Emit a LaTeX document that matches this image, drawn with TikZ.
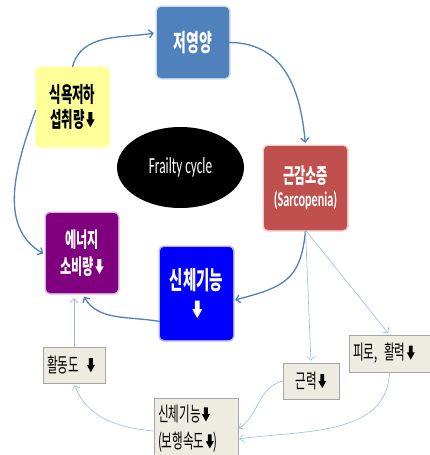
\documentclass[tikz,border=0pt]{standalone}
\usepackage{fontspec}
\setmainfont{Noto Sans CJK KR}[FakeStretch=0.58]
\newfontfamily\latinfont{Carlito}[FakeStretch=0.58]
\usetikzlibrary{arrows.meta,shapes.geometric}

\definecolor{cBlueGray}{HTML}{4F81BD}
\definecolor{cYellow}{HTML}{FFFF99}
\definecolor{cRed}{HTML}{C0504D}
\definecolor{cPurple}{HTML}{800080}
\definecolor{cBlue}{HTML}{0000FF}
\definecolor{cBeige}{HTML}{EEECE1}
\definecolor{cBeigeLine}{HTML}{A6A6A6}
\definecolor{cMain}{HTML}{4F81BD}
\definecolor{cThin}{HTML}{9DBBDD}

\newcommand{\dnarr}[1][black]{\hspace{0.06em}\tikz[baseline=0pt, sharp corners]{\fill[#1, sharp corners] (-0.095em,0.72em) -- (0.095em,0.72em) -- (0.095em,0.38em) -- (0.2em,0.38em) -- (0em,0.02em) -- (-0.2em,0.38em) -- (-0.095em,0.38em) -- cycle;}}

\tikzset{
  cbox/.style={fill=#1, preaction={draw=#1!30, line width=3pt}, rounded corners=4pt,
    align=center, text=white, font=\bfseries\fontsize{21}{25}\selectfont, inner sep=2pt},
  bbox/.style={draw=cBeigeLine, fill=cBeige, line width=0.6pt,
    font=\fontsize{20}{27}\selectfont, align=left, inner xsep=4pt, inner ysep=2pt},
  mainarr/.style={draw=cMain, line width=1.3pt, -{Straight Barb[length=4pt,width=8pt]}},
  thinarr/.style={draw=cThin, line width=0.6pt, -{Straight Barb[length=4pt,width=8pt]}},
}

\begin{document}
\begin{tikzpicture}[x=1pt,y=1pt]
\useasboundingbox (0,0) rectangle (430,-455);

% nodes
\node[cbox=cBlueGray, minimum width=72pt, minimum height=71pt,
      font=\bfseries\fontsize{24}{28}\selectfont] (low) at (193,-42.5) {저영양};
\node[cbox=cYellow, text=black, minimum width=73pt, minimum height=80pt,
      font=\bfseries\fontsize{21.5}{25}\selectfont] (app) at (72.5,-107) {식욕저하\\섭취량\dnarr};
\node[ellipse, fill=black, minimum width=127pt, minimum height=81pt, text=white,
      font=\latinfont\fontsize{23}{26}\selectfont] (ell) at (180.5,-167.5) {Frailty cycle};
\node[cbox=cRed, minimum width=83pt, minimum height=84pt,
      font=\bfseries\fontsize{21}{23}\selectfont] (sarc) at (305.5,-188) {근감소증\\{\latinfont\bfseries\fontsize{21}{23}\selectfont (Sarcopenia)}};
\node[cbox=cPurple, minimum width=72pt, minimum height=80pt,
      font=\bfseries\fontsize{21}{27}\selectfont] (ener) at (82,-253) {에너지\\소비량\dnarr[white]};
\node[cbox=cBlue, minimum width=73pt, minimum height=93pt,
      font=\bfseries\fontsize{25}{29}\selectfont] (phys) at (196.5,-293.5) {신체기능\\\dnarr[white]};

\node[bbox, text width=54pt, minimum height=36pt] (act) at (74,-365) {활동도 \dnarr};
\node[bbox, align=center, minimum width=56pt, minimum height=36pt] (str) at (311,-381) {근력\dnarr};
\node[bbox, text width=73pt, minimum height=37pt] (fat) at (389.5,-353.5) {피로, 활력\dnarr};
\node[bbox, text width=76pt, minimum height=62pt] (walk) at (196,-429) {신체기능\dnarr\\(보행속도\dnarr)};

% main cycle connectors
\draw[mainarr, shorten >=3pt] (app.north) to[out=75,in=190] ([yshift=10pt]low.west);
\draw[mainarr, shorten >=3pt] (low.east) to[out=0,in=95,looseness=1.1] (sarc.north);
\draw[mainarr, shorten >=2pt] (sarc.south) to[out=-95,in=15,looseness=1.3] ([yshift=-7pt]phys.east);
\draw[mainarr, shorten >=4pt] ([yshift=-28pt]phys.west) to[out=170,in=-60] (ener.south);
\draw[mainarr, shorten >=3pt] ([yshift=-3pt]app.west) to[out=250,in=150] ([yshift=-2pt]ener.west);

% thin connectors
\draw[thinarr, shorten >=2pt] (sarc.south) -- (str.north);
\draw[thinarr, shorten >=2pt] (sarc.south) -- (fat.north);
\draw[thinarr, shorten >=1pt] (str.west) to[out=195,in=35] (walk.east);
\draw[thinarr, shorten >=1pt] (fat.south) to[out=-92,in=8] ([yshift=-10pt]walk.east);
\draw[thinarr, shorten >=2pt] ([yshift=-2pt]walk.west) to[out=175,in=-70] (act.south);
\draw[thinarr, shorten >=5pt] (act.north) -- ([xshift=-8pt]ener.south);
\end{tikzpicture}
\end{document}
